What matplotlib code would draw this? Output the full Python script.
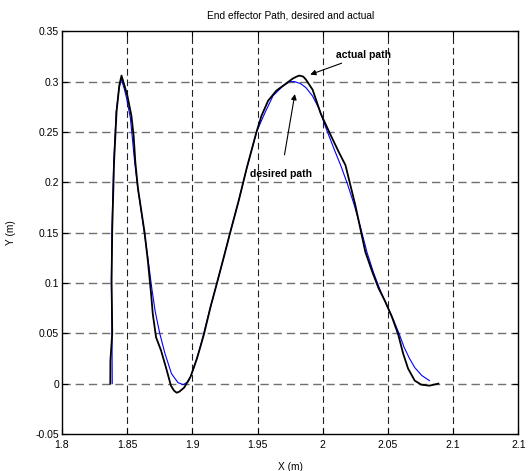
import matplotlib
matplotlib.use('Agg')
import matplotlib.pyplot as plt

# actual path (black)
actual_x = [1.8371, 1.8372, 1.8386, 1.8381, 1.8386, 1.8400, 1.8419, 1.8440, 1.8457, 1.8480,
            1.8502, 1.8533, 1.8550, 1.8563, 1.8583, 1.8634, 1.8659, 1.8684, 1.8697, 1.8722,
            1.8760, 1.8798, 1.8836, 1.8860, 1.8880, 1.8900, 1.8937, 1.8987, 1.9038, 1.9089,
            1.9139, 1.9189, 1.9240, 1.9290, 1.9354, 1.9417, 1.9492, 1.9530, 1.9581, 1.9644,
            1.9707, 1.9770, 1.9800, 1.9820, 1.9850, 1.9871, 1.9922, 1.9985, 2.0060, 2.0123,
            2.0174, 2.0212, 2.0250, 2.0288, 2.0326, 2.0377, 2.0427, 2.0477, 2.0528, 2.0578,
            2.0616, 2.0654, 2.0705, 2.0755, 2.0818, 2.0886]
actual_y = [0.000, 0.023, 0.050, 0.102, 0.154, 0.220, 0.270, 0.296, 0.306, 0.296,
            0.286, 0.266, 0.246, 0.220, 0.194, 0.150, 0.122, 0.089, 0.069, 0.046,
            0.033, 0.016, -0.002, -0.007, -0.009, -0.008, -0.004, 0.007, 0.026, 0.049,
            0.076, 0.100, 0.125, 0.150, 0.181, 0.214, 0.250, 0.266, 0.281, 0.291,
            0.297, 0.303, 0.305, 0.306, 0.305, 0.302, 0.292, 0.268, 0.247, 0.230,
            0.217, 0.197, 0.177, 0.154, 0.131, 0.112, 0.095, 0.082, 0.067, 0.049,
            0.030, 0.015, 0.003, -0.001, -0.002, 0.000]

# desired path (blue)
desired_x = [1.8386, 1.8384, 1.8379, 1.8384, 1.8397, 1.8416, 1.8438, 1.8455, 1.8478, 1.8495,
             1.8525, 1.8558, 1.8580, 1.8630, 1.8660, 1.8690, 1.8715, 1.8750, 1.8790, 1.8840,
             1.8890, 1.8930, 1.8970, 1.9010, 1.9060, 1.9139, 1.9189, 1.9240, 1.9290, 1.9354,
             1.9417, 1.9492, 1.9560, 1.9619, 1.9690, 1.9745, 1.9783, 1.9830, 1.9871, 1.9920,
             1.9972, 2.0030, 2.0090, 2.0140, 2.0190, 2.0240, 2.0290, 2.0340, 2.0390, 2.0440,
             2.0490, 2.0540, 2.0590, 2.0624, 2.0665, 2.0705, 2.0760, 2.0818]
desired_y = [0.000, 0.050, 0.102, 0.154, 0.220, 0.270, 0.293, 0.303, 0.293, 0.284,
             0.264, 0.220, 0.196, 0.152, 0.124, 0.094, 0.072, 0.050, 0.030, 0.010,
             0.001, -0.001, 0.002, 0.015, 0.036, 0.076, 0.100, 0.125, 0.150, 0.181,
             0.214, 0.250, 0.270, 0.286, 0.295, 0.300, 0.300, 0.298, 0.294, 0.286,
             0.273, 0.252, 0.232, 0.216, 0.198, 0.178, 0.155, 0.130, 0.110, 0.093,
             0.078, 0.064, 0.048, 0.036, 0.025, 0.016, 0.008, 0.003]

xticks = [1.8, 1.85, 1.9, 1.95, 2.0, 2.05, 2.1, 2.15]
xtick_labels = ['1.8', '1.85', '1.9', '1.95', '2', '2.05', '2.1', '2.1']
yticks = [-0.05, 0, 0.05, 0.1, 0.15, 0.2, 0.25, 0.3, 0.35]
ytick_labels = ['-0.05', '0', '0.05', '0.1', '0.15', '0.2', '0.25', '0.3', '0.35']

plt.rcParams['font.family'] = ['Liberation Sans', 'DejaVu Sans']
plt.rcParams['font.size'] = 7.3

fig = plt.figure(figsize=(5.29, 4.71), dpi=100)
ax = fig.add_axes([0.117, 0.0786, 0.863, 0.855])

ax.plot(desired_x, desired_y, color='#0000ff', lw=0.8, zorder=3, solid_joinstyle='round')
ax.plot(actual_x, actual_y, color='black', lw=1.3, zorder=4, solid_joinstyle='round')

ax.set_xlim(1.8, 2.15)
ax.set_ylim(-0.05, 0.35)
ax.set_xticks(xticks)
ax.set_xticklabels(xtick_labels)
ax.set_yticks(yticks)
ax.set_yticklabels(ytick_labels)
ax.tick_params(direction='in', length=4, width=0.8, top=True, right=True, labelsize=7.5)
ax.tick_params(axis='x', pad=4)
ax.tick_params(axis='y', pad=2)

# MATLAB style dashed grid
for xv in xticks[1:-1]:
    ax.axvline(xv, color='#202020', lw=0.8, dashes=(6, 3.5), zorder=1)
for yv in yticks[1:-1]:
    ax.axhline(yv, color='#707070', lw=1.0, dashes=(6, 3.5), zorder=1)

for sp in ax.spines.values():
    sp.set_linewidth(1.0)

ax.set_title('End effector Path, desired and actual', fontsize=7.3, pad=9)
ax.set_xlabel('X (m)', fontsize=7.3, labelpad=9)
ax.set_ylabel('Y (m)', fontsize=7.3, labelpad=14)

ax.annotate('actual path', xy=(1.9904, 0.307), xytext=(2.0098, 0.326),
            fontsize=7.5, fontweight='bold', va='center', ha='left',
            arrowprops=dict(arrowstyle='-|>', color='black', lw=0.8,
                            shrinkA=0, shrinkB=0, mutation_scale=8),
            zorder=5)
ax.annotate('desired path', xy=(1.9786, 0.2876), xytext=(1.9682, 0.2087),
            fontsize=7.5, fontweight='bold', va='center', ha='center',
            arrowprops=dict(arrowstyle='-|>', color='black', lw=0.8,
                            shrinkA=8, shrinkB=0, mutation_scale=8),
            zorder=5)

fig.savefig('out.png', dpi=100)
